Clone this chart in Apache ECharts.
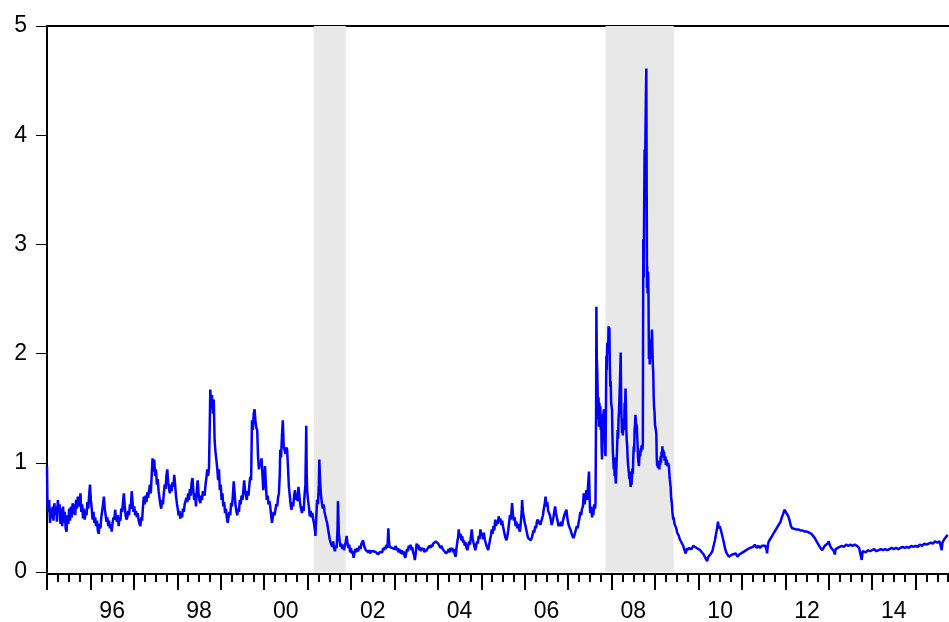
<!DOCTYPE html>
<html>
<head>
<meta charset="utf-8">
<script src="https://cdn.jsdelivr.net/npm/echarts@6/dist/echarts.min.js"></script>
<style>
html,body{margin:0;padding:0;background:#fff;overflow:hidden;}
#chart{width:949px;height:622px;}
</style>
</head>
<body>
<div id="chart"></div>
<script>
// Decimal-year / value pairs
var data1995_1998 = [[1995.00,0.97],[1995.01,0.62],[1995.03,0.55],[1995.05,0.66],[1995.07,0.45],[1995.09,0.58],[1995.11,0.49],[1995.13,0.60],[1995.15,0.47],[1995.17,0.63],[1995.19,0.52],[1995.21,0.60],[1995.23,0.46],[1995.25,0.66],[1995.27,0.55],[1995.29,0.62],[1995.31,0.44],[1995.33,0.58],[1995.35,0.42],[1995.37,0.60],[1995.39,0.45],[1995.41,0.55],[1995.43,0.40],[1995.45,0.37],[1995.47,0.52],[1995.49,0.44],[1995.51,0.58],[1995.53,0.47],[1995.55,0.60],[1995.57,0.50],[1995.59,0.63],[1995.61,0.53],[1995.63,0.62],[1995.65,0.52],[1995.67,0.66],[1995.69,0.58],[1995.71,0.69],[1995.73,0.60],[1995.75,0.66],[1995.77,0.72],[1995.79,0.55],[1995.81,0.62],[1995.83,0.49],[1995.85,0.58],[1995.87,0.48],[1995.89,0.56],[1995.91,0.52],[1995.93,0.64],[1995.95,0.58],[1995.97,0.70],[1995.99,0.80],[1996.01,0.66],[1996.03,0.58],[1996.05,0.48],[1996.07,0.55],[1996.09,0.45],[1996.11,0.50],[1996.13,0.42],[1996.15,0.47],[1996.17,0.38],[1996.19,0.35],[1996.21,0.44],[1996.23,0.40],[1996.25,0.50],[1996.27,0.56],[1996.29,0.62],[1996.31,0.69],[1996.33,0.58],[1996.35,0.52],[1996.37,0.46],[1996.39,0.50],[1996.41,0.42],[1996.43,0.47],[1996.45,0.40],[1996.47,0.44],[1996.49,0.37],[1996.51,0.45],[1996.53,0.50],[1996.55,0.48],[1996.57,0.57],[1996.59,0.50],[1996.61,0.46],[1996.63,0.52],[1996.65,0.42],[1996.67,0.50],[1996.69,0.47],[1996.71,0.58],[1996.73,0.55],[1996.75,0.64],[1996.77,0.72],[1996.79,0.60],[1996.81,0.52],[1996.83,0.48],[1996.85,0.50],[1996.87,0.56],[1996.89,0.52],[1996.91,0.62],[1996.93,0.58],[1996.95,0.74],[1996.97,0.64],[1996.99,0.55],[1997.01,0.60],[1997.03,0.52],[1997.05,0.56],[1997.07,0.50],[1997.09,0.54],[1997.11,0.47],[1997.13,0.44],[1997.15,0.42],[1997.17,0.50],[1997.19,0.47],[1997.21,0.60],[1997.23,0.69],[1997.25,0.62],[1997.27,0.70],[1997.29,0.64],[1997.31,0.73],[1997.33,0.68],[1997.35,0.75],[1997.37,0.80],[1997.39,0.72],[1997.41,0.88],[1997.43,1.04],[1997.45,0.92],[1997.47,1.03],[1997.49,0.88],[1997.51,0.94],[1997.53,0.80],[1997.55,0.85],[1997.57,0.74],[1997.59,0.68],[1997.61,0.62],[1997.63,0.58],[1997.65,0.66],[1997.67,0.62],[1997.69,0.72],[1997.71,0.80],[1997.73,0.76],[1997.75,0.88],[1997.77,0.94],[1997.79,0.82],[1997.81,0.76],[1997.83,0.72],[1997.85,0.80],[1997.87,0.74],[1997.89,0.82],[1997.91,0.78],[1997.93,0.89],[1997.95,0.80],[1997.97,0.70],[1997.99,0.63],[1998.01,0.58],[1998.03,0.52],[1998.05,0.56],[1998.07,0.49],[1998.09,0.54],[1998.11,0.50],[1998.13,0.58],[1998.15,0.55],[1998.17,0.62],[1998.19,0.63],[1998.21,0.68],[1998.23,0.64],[1998.25,0.72],[1998.27,0.66],[1998.29,0.76],[1998.31,0.70],[1998.33,0.82],[1998.35,0.86],[1998.37,0.74],[1998.39,0.66],[1998.41,0.72],[1998.43,0.60],[1998.45,0.75],[1998.47,0.84],[1998.49,0.72],[1998.51,0.66],[1998.53,0.63],[1998.55,0.70],[1998.57,0.66],[1998.59,0.74],[1998.61,0.75],[1998.63,0.70],[1998.65,0.80],[1998.67,0.86],[1998.69,0.94],[1998.71,0.88],[1998.73,0.95],[1998.75,1.40],[1998.76,1.67],[1998.78,1.50],[1998.80,1.62],[1998.82,1.45],[1998.84,1.58],[1998.86,1.20],[1998.88,1.10],[1998.90,1.09],[1998.92,0.95],[1998.94,0.84],[1998.96,0.94],[1998.98,0.75]];

var data1999_2002 = [[1999.00,0.80],[1999.02,0.66],[1999.04,0.72],[1999.06,0.60],[1999.08,0.64],[1999.10,0.54],[1999.12,0.58],[1999.14,0.50],[1999.16,0.45],[1999.18,0.50],[1999.20,0.55],[1999.22,0.52],[1999.24,0.63],[1999.26,0.60],[1999.28,0.70],[1999.30,0.83],[1999.32,0.72],[1999.34,0.62],[1999.36,0.56],[1999.38,0.52],[1999.40,0.58],[1999.42,0.55],[1999.44,0.66],[1999.46,0.62],[1999.48,0.70],[1999.50,0.66],[1999.52,0.74],[1999.54,0.84],[1999.56,0.75],[1999.58,0.70],[1999.60,0.66],[1999.62,0.74],[1999.64,0.70],[1999.66,0.80],[1999.68,0.87],[1999.70,0.84],[1999.72,1.39],[1999.74,1.30],[1999.76,1.45],[1999.78,1.49],[1999.80,1.38],[1999.82,1.32],[1999.84,1.30],[1999.86,1.05],[1999.88,0.94],[1999.90,1.00],[1999.92,0.98],[1999.94,1.04],[1999.96,0.90],[1999.98,0.75],[2000.00,0.85],[2000.02,0.97],[2000.04,0.80],[2000.06,0.66],[2000.08,0.70],[2000.10,0.62],[2000.12,0.65],[2000.14,0.60],[2000.16,0.52],[2000.18,0.45],[2000.20,0.50],[2000.22,0.55],[2000.24,0.52],[2000.26,0.57],[2000.28,0.62],[2000.30,0.60],[2000.32,0.68],[2000.34,0.72],[2000.36,0.90],[2000.37,1.12],[2000.39,1.05],[2000.41,1.25],[2000.43,1.39],[2000.45,1.15],[2000.47,1.12],[2000.49,1.08],[2000.51,1.14],[2000.53,1.12],[2000.55,0.95],[2000.57,0.78],[2000.59,0.70],[2000.61,0.62],[2000.63,0.57],[2000.65,0.64],[2000.67,0.60],[2000.69,0.70],[2000.71,0.75],[2000.73,0.66],[2000.75,0.72],[2000.77,0.65],[2000.79,0.78],[2000.81,0.70],[2000.83,0.62],[2000.85,0.58],[2000.87,0.54],[2000.89,0.60],[2000.91,0.56],[2000.93,0.70],[2000.95,0.80],[2000.97,1.34],[2000.98,0.90],[2000.99,0.75],[2001.01,0.66],[2001.03,0.60],[2001.05,0.51],[2001.07,0.56],[2001.09,0.50],[2001.11,0.54],[2001.13,0.48],[2001.15,0.44],[2001.17,0.38],[2001.18,0.33],[2001.20,0.50],[2001.22,0.66],[2001.24,0.62],[2001.26,0.80],[2001.27,1.03],[2001.29,0.82],[2001.31,0.70],[2001.33,0.63],[2001.35,0.58],[2001.37,0.62],[2001.39,0.55],[2001.41,0.54],[2001.43,0.48],[2001.45,0.45],[2001.47,0.40],[2001.49,0.35],[2001.51,0.30],[2001.53,0.27],[2001.55,0.25],[2001.57,0.23],[2001.59,0.28],[2001.61,0.22],[2001.63,0.19],[2001.65,0.24],[2001.67,0.22],[2001.69,0.40],[2001.70,0.65],[2001.72,0.35],[2001.74,0.28],[2001.76,0.23],[2001.78,0.26],[2001.80,0.21],[2001.82,0.25],[2001.84,0.20],[2001.86,0.24],[2001.88,0.28],[2001.90,0.33],[2001.92,0.26],[2001.94,0.22],[2001.96,0.25],[2001.98,0.18],[2002.00,0.22],[2002.02,0.17],[2002.04,0.19],[2002.06,0.13],[2002.08,0.18],[2002.10,0.21],[2002.12,0.18],[2002.14,0.22],[2002.16,0.19],[2002.18,0.20],[2002.20,0.24],[2002.22,0.21],[2002.24,0.26],[2002.26,0.27],[2002.28,0.29],[2002.30,0.24],[2002.32,0.22],[2002.34,0.20],[2002.36,0.19],[2002.38,0.21],[2002.40,0.18],[2002.42,0.20],[2002.44,0.17],[2002.46,0.19],[2002.48,0.18],[2002.50,0.20],[2002.52,0.19],[2002.54,0.18],[2002.56,0.20],[2002.58,0.18],[2002.60,0.19],[2002.62,0.16],[2002.64,0.16],[2002.66,0.18],[2002.68,0.17],[2002.70,0.19],[2002.72,0.18],[2002.74,0.22],[2002.76,0.20],[2002.78,0.23],[2002.80,0.21],[2002.82,0.25],[2002.84,0.22],[2002.86,0.40],[2002.87,0.30],[2002.89,0.23],[2002.91,0.22],[2002.93,0.24],[2002.95,0.22],[2002.97,0.21],[2002.99,0.23]];

var data2003_2007 = [[2003.01,0.21],[2003.03,0.24],[2003.05,0.20],[2003.07,0.22],[2003.09,0.18],[2003.11,0.21],[2003.13,0.19],[2003.15,0.17],[2003.17,0.20],[2003.19,0.16],[2003.21,0.19],[2003.23,0.15],[2003.25,0.13],[2003.27,0.17],[2003.29,0.21],[2003.31,0.19],[2003.33,0.24],[2003.35,0.22],[2003.37,0.25],[2003.39,0.20],[2003.41,0.23],[2003.43,0.18],[2003.45,0.16],[2003.47,0.11],[2003.49,0.17],[2003.51,0.26],[2003.53,0.22],[2003.55,0.25],[2003.57,0.20],[2003.59,0.23],[2003.61,0.19],[2003.63,0.22],[2003.65,0.20],[2003.67,0.22],[2003.69,0.18],[2003.71,0.21],[2003.73,0.19],[2003.75,0.19],[2003.77,0.22],[2003.79,0.21],[2003.81,0.24],[2003.83,0.22],[2003.85,0.25],[2003.87,0.23],[2003.89,0.26],[2003.91,0.25],[2003.93,0.27],[2003.95,0.28],[2003.97,0.29],[2003.99,0.27],[2004.01,0.26],[2004.03,0.24],[2004.05,0.25],[2004.07,0.22],[2004.09,0.24],[2004.11,0.21],[2004.13,0.22],[2004.15,0.19],[2004.17,0.20],[2004.19,0.17],[2004.21,0.16],[2004.23,0.19],[2004.25,0.21],[2004.27,0.18],[2004.29,0.22],[2004.31,0.20],[2004.33,0.22],[2004.35,0.18],[2004.37,0.21],[2004.39,0.16],[2004.41,0.14],[2004.43,0.22],[2004.45,0.28],[2004.47,0.33],[2004.48,0.39],[2004.50,0.32],[2004.52,0.35],[2004.54,0.29],[2004.56,0.33],[2004.58,0.27],[2004.60,0.29],[2004.62,0.24],[2004.64,0.27],[2004.66,0.22],[2004.68,0.20],[2004.70,0.24],[2004.72,0.28],[2004.74,0.25],[2004.76,0.32],[2004.78,0.39],[2004.80,0.31],[2004.82,0.27],[2004.84,0.24],[2004.86,0.20],[2004.88,0.23],[2004.90,0.28],[2004.92,0.26],[2004.94,0.33],[2004.96,0.30],[2004.98,0.39],[2005.00,0.33],[2005.02,0.36],[2005.04,0.30],[2005.06,0.36],[2005.08,0.30],[2005.10,0.27],[2005.12,0.24],[2005.14,0.22],[2005.16,0.20],[2005.18,0.25],[2005.20,0.29],[2005.22,0.33],[2005.24,0.39],[2005.26,0.35],[2005.28,0.42],[2005.30,0.38],[2005.32,0.48],[2005.34,0.42],[2005.36,0.47],[2005.38,0.44],[2005.40,0.51],[2005.42,0.46],[2005.44,0.49],[2005.46,0.43],[2005.48,0.47],[2005.50,0.42],[2005.52,0.38],[2005.54,0.34],[2005.56,0.31],[2005.58,0.29],[2005.60,0.33],[2005.62,0.38],[2005.64,0.45],[2005.66,0.52],[2005.68,0.48],[2005.70,0.58],[2005.71,0.63],[2005.73,0.52],[2005.75,0.47],[2005.77,0.50],[2005.79,0.42],[2005.81,0.46],[2005.83,0.40],[2005.85,0.44],[2005.87,0.39],[2005.89,0.37],[2005.91,0.45],[2005.93,0.55],[2005.94,0.66],[2005.96,0.55],[2005.98,0.50],[2006.00,0.45],[2006.02,0.42],[2006.04,0.38],[2006.06,0.34],[2006.08,0.31],[2006.10,0.30],[2006.12,0.32],[2006.14,0.29],[2006.16,0.31],[2006.18,0.34],[2006.20,0.38],[2006.22,0.36],[2006.24,0.42],[2006.26,0.40],[2006.28,0.46],[2006.30,0.48],[2006.32,0.44],[2006.34,0.47],[2006.36,0.43],[2006.38,0.46],[2006.40,0.45],[2006.42,0.52],[2006.44,0.58],[2006.46,0.62],[2006.48,0.69],[2006.50,0.60],[2006.52,0.64],[2006.54,0.56],[2006.56,0.57],[2006.58,0.52],[2006.60,0.48],[2006.62,0.43],[2006.64,0.46],[2006.66,0.50],[2006.68,0.55],[2006.70,0.60],[2006.72,0.54],[2006.74,0.50],[2006.76,0.46],[2006.78,0.42],[2006.80,0.45],[2006.82,0.42],[2006.84,0.46],[2006.86,0.42],[2006.88,0.47],[2006.90,0.50],[2006.92,0.53],[2006.94,0.55],[2006.96,0.57],[2006.98,0.50],[2007.00,0.45],[2007.02,0.42],[2007.04,0.40],[2007.06,0.38],[2007.08,0.35],[2007.10,0.33],[2007.12,0.31],[2007.14,0.33],[2007.16,0.36],[2007.18,0.39],[2007.20,0.42],[2007.22,0.40],[2007.24,0.45],[2007.26,0.49],[2007.28,0.55],[2007.30,0.52],[2007.32,0.58],[2007.34,0.60],[2007.36,0.72],[2007.38,0.62],[2007.40,0.68],[2007.42,0.75],[2007.44,0.66],[2007.46,0.80],[2007.48,0.92],[2007.50,0.60]];

var data2007_2009 = [[2007.51,0.54],[2007.53,0.60],[2007.55,0.50],[2007.57,0.56],[2007.58,0.52],[2007.60,0.62],[2007.62,0.58],[2007.63,0.63],[2007.645,1.60],[2007.65,2.43],[2007.66,1.95],[2007.67,1.85],[2007.69,1.40],[2007.70,1.60],[2007.71,1.33],[2007.72,1.55],[2007.73,1.42],[2007.74,1.52],[2007.75,1.30],[2007.76,1.45],[2007.77,1.15],[2007.78,1.03],[2007.79,1.30],[2007.80,1.20],[2007.81,1.40],[2007.82,1.49],[2007.83,1.25],[2007.84,1.38],[2007.85,1.10],[2007.86,1.06],[2007.87,1.50],[2007.88,1.98],[2007.89,1.85],[2007.90,2.10],[2007.92,2.00],[2007.93,2.25],[2007.94,2.20],[2007.95,2.24],[2007.96,1.90],[2007.97,1.70],[2007.98,1.75],[2007.99,1.55],[2008.01,1.49],[2008.02,1.25],[2008.03,1.10],[2008.05,0.94],[2008.06,1.05],[2008.07,0.88],[2008.08,0.92],[2008.10,0.81],[2008.11,0.95],[2008.12,1.05],[2008.13,1.18],[2008.14,1.30],[2008.15,1.22],[2008.16,1.40],[2008.17,1.46],[2008.19,1.70],[2008.20,1.85],[2008.21,2.01],[2008.22,1.60],[2008.23,1.40],[2008.24,1.27],[2008.25,1.35],[2008.26,1.25],[2008.28,1.40],[2008.29,1.30],[2008.30,1.55],[2008.31,1.45],[2008.32,1.68],[2008.33,1.55],[2008.34,1.30],[2008.35,1.20],[2008.36,1.15],[2008.37,1.05],[2008.38,0.98],[2008.40,0.90],[2008.41,0.85],[2008.42,0.92],[2008.43,0.82],[2008.44,0.78],[2008.45,0.85],[2008.46,0.80],[2008.47,0.87],[2008.48,0.95],[2008.49,0.90],[2008.50,1.05],[2008.51,1.15],[2008.52,1.10],[2008.53,1.30],[2008.54,1.35],[2008.55,1.44],[2008.56,1.38],[2008.57,1.30],[2008.58,1.35],[2008.59,1.25],[2008.60,1.15],[2008.61,1.05],[2008.62,1.00],[2008.63,0.97],[2008.64,1.05],[2008.65,1.10],[2008.66,1.06],[2008.67,1.13],[2008.68,1.10],[2008.69,1.16],[2008.70,1.15],[2008.71,1.12],[2008.72,1.18],[2008.73,3.05],[2008.74,2.70],[2008.75,3.30],[2008.76,3.87],[2008.77,3.60],[2008.78,4.00],[2008.79,4.35],[2008.80,4.61],[2008.81,3.40],[2008.815,2.60],[2008.82,2.80],[2008.83,2.55],[2008.84,2.75],[2008.85,2.53],[2008.86,1.95],[2008.87,2.05],[2008.88,1.90],[2008.89,2.10],[2008.90,2.13],[2008.91,1.95],[2008.92,2.10],[2008.93,2.22],[2008.94,2.05],[2008.95,1.90],[2008.96,1.82],[2008.97,1.60],[2008.98,1.50],[2008.99,1.46],[2009.00,1.35],[2009.02,1.30],[2009.03,1.27],[2009.04,1.05],[2009.05,0.97],[2009.06,1.02],[2009.07,0.95],[2009.09,1.00],[2009.10,0.94],[2009.11,1.02],[2009.12,0.98],[2009.13,1.06],[2009.14,1.00],[2009.15,1.10],[2009.16,1.05],[2009.17,1.15],[2009.18,1.08],[2009.19,1.12],[2009.20,1.05],[2009.21,1.10],[2009.22,1.02],[2009.24,1.06],[2009.25,0.98],[2009.27,1.03],[2009.28,0.97],[2009.30,1.00],[2009.32,0.97],[2009.33,0.90],[2009.34,0.85],[2009.36,0.78],[2009.37,0.69],[2009.39,0.62],[2009.40,0.55],[2009.42,0.48],[2009.43,0.50],[2009.45,0.44],[2009.47,0.42],[2009.49,0.40],[2009.51,0.36],[2009.53,0.35],[2009.55,0.33],[2009.57,0.30],[2009.59,0.29],[2009.61,0.27],[2009.63,0.26],[2009.65,0.24],[2009.67,0.21],[2009.69,0.19],[2009.70,0.17],[2009.72,0.19],[2009.74,0.22],[2009.76,0.20],[2009.78,0.22]];

var data2009_2015 = [[2009.80,0.23],[2009.84,0.21],[2009.88,0.24],[2009.92,0.25],[2009.96,0.22],[2010.00,0.23],[2010.04,0.20],[2010.08,0.19],[2010.12,0.16],[2010.16,0.13],[2010.20,0.10],[2010.23,0.14],[2010.26,0.13],[2010.29,0.17],[2010.32,0.19],[2010.35,0.24],[2010.38,0.29],[2010.41,0.36],[2010.43,0.40],[2010.45,0.46],[2010.47,0.40],[2010.49,0.42],[2010.52,0.38],[2010.55,0.37],[2010.58,0.28],[2010.61,0.22],[2010.64,0.18],[2010.67,0.16],[2010.70,0.14],[2010.74,0.13],[2010.78,0.16],[2010.82,0.15],[2010.86,0.17],[2010.90,0.14],[2010.94,0.16],[2010.98,0.15],[2011.02,0.18],[2011.06,0.17],[2011.10,0.20],[2011.14,0.19],[2011.18,0.22],[2011.22,0.21],[2011.26,0.23],[2011.30,0.25],[2011.34,0.22],[2011.38,0.24],[2011.42,0.22],[2011.46,0.24],[2011.50,0.23],[2011.54,0.24],[2011.57,0.20],[2011.58,0.17],[2011.60,0.25],[2011.62,0.28],[2011.65,0.30],[2011.68,0.32],[2011.71,0.34],[2011.74,0.36],[2011.77,0.38],[2011.80,0.40],[2011.83,0.42],[2011.86,0.44],[2011.89,0.46],[2011.92,0.50],[2011.95,0.53],[2011.98,0.57],[2012.01,0.56],[2012.04,0.53],[2012.07,0.51],[2012.10,0.47],[2012.13,0.42],[2012.16,0.40],[2012.20,0.40],[2012.25,0.39],[2012.30,0.39],[2012.35,0.38],[2012.40,0.38],[2012.45,0.37],[2012.50,0.37],[2012.55,0.36],[2012.60,0.35],[2012.64,0.34],[2012.68,0.31],[2012.72,0.28],[2012.75,0.26],[2012.78,0.24],[2012.81,0.22],[2012.85,0.20],[2012.88,0.22],[2012.91,0.24],[2012.94,0.23],[2012.97,0.26],[2013.00,0.28],[2013.03,0.24],[2013.06,0.22],[2013.09,0.21],[2013.12,0.19],[2013.14,0.16],[2013.16,0.21],[2013.20,0.22],[2013.25,0.23],[2013.30,0.24],[2013.35,0.23],[2013.40,0.25],[2013.45,0.24],[2013.50,0.25],[2013.55,0.24],[2013.60,0.25],[2013.65,0.24],[2013.70,0.22],[2013.74,0.23],[2013.76,0.11],[2013.78,0.19],[2013.82,0.20],[2013.86,0.18],[2013.90,0.20],[2013.95,0.19],[2014.00,0.20],[2014.05,0.21],[2014.10,0.19],[2014.15,0.20],[2014.20,0.21],[2014.25,0.20],[2014.30,0.21],[2014.35,0.20],[2014.40,0.21],[2014.45,0.22],[2014.50,0.21],[2014.55,0.22],[2014.60,0.21],[2014.65,0.22],[2014.70,0.23],[2014.75,0.22],[2014.80,0.23],[2014.85,0.22],[2014.90,0.24],[2014.95,0.23],[2015.00,0.24],[2015.05,0.23],[2015.10,0.25],[2015.15,0.24],[2015.20,0.26],[2015.25,0.25],[2015.30,0.26],[2015.35,0.27],[2015.40,0.26],[2015.45,0.28],[2015.50,0.27],[2015.55,0.28],[2015.58,0.24],[2015.60,0.20],[2015.62,0.27],[2015.66,0.30],[2015.70,0.32],[2015.74,0.34]];

// Shaded recession periods (decimal years)
var recessions = [[2001.15, 2001.88], [2007.86, 2009.43]];
// Axis ranges / tick labels
var yTicks = [0, 1, 2, 3, 4, 5];
var xStart = 1995, xEnd = 2016;

var series = data1995_1998.concat(data1999_2002, data2003_2007, data2007_2009, data2009_2015);

var FONT = '"Liberation Sans", Arial, sans-serif';
var chart = echarts.init(document.getElementById('chart'), null, {renderer: 'canvas'});
chart.setOption({
  animation: false,
  backgroundColor: '#ffffff',
  grid: {left: 47, top: 26, width: 912, height: 546, containLabel: false, outerBoundsMode: 'none'},
  xAxis: [
    {
      type: 'value', min: xStart, max: xEnd, interval: 1, position: 'bottom', offset: 2,
      axisLine: {show: true, onZero: false, lineStyle: {color: '#000', width: 2}},
      axisTick: {show: true, inside: false, length: 16, lineStyle: {color: '#000', width: 2}},
      minorTick: {show: true, splitNumber: 4, length: 8, lineStyle: {color: '#000', width: 2}},
      axisLabel: {show: false},
      splitLine: {show: false}
    },
    {
      type: 'value', min: xStart, max: xEnd, interval: 0.5, position: 'bottom', offset: 2,
      axisLine: {show: false, onZero: false},
      axisTick: {show: false},
      splitLine: {show: false},
      axisLabel: {
        show: true, margin: 26, color: '#000', fontSize: 23, fontFamily: FONT,
        formatter: function (v) {
          var y = Math.floor(v + 1e-9);
          if (Math.abs(v - y - 0.5) < 1e-6 && y % 2 === 0) {
            var s = String(y % 100);
            return s.length < 2 ? '0' + s : s;
          }
          return '';
        }
      }
    },
    {
      type: 'value', min: xStart, max: xEnd, position: 'top',
      axisLine: {show: true, onZero: false, lineStyle: {color: '#000', width: 2}},
      axisTick: {show: false}, axisLabel: {show: false}, splitLine: {show: false}
    }
  ],
  yAxis: {
    type: 'value', min: 0, max: 5, interval: 1,
    axisLine: {show: true, onZero: false, lineStyle: {color: '#000', width: 2}},
    axisTick: {show: true, inside: false, length: 11, lineStyle: {color: '#000', width: 1}},
    axisLabel: {
      show: true, margin: 20, color: '#000', fontSize: 23, fontFamily: FONT,
      formatter: function (v) { return yTicks.indexOf(v) >= 0 ? String(v) : ''; }
    },
    splitLine: {show: false}
  },
  series: [
    {
      type: 'line', data: [], z: 1, silent: true,
      markArea: {
        silent: true,
        itemStyle: {color: '#e8e8e8'},
        data: recessions.map(function (r) { return [{xAxis: r[0]}, {xAxis: r[1]}]; })
      }
    },
    {
      type: 'line', data: series, z: 3, showSymbol: false, symbol: 'none',
      lineStyle: {color: '#0000ff', width: 2.5},
      clip: true
    }
  ]
});
</script>
</body>
</html>
